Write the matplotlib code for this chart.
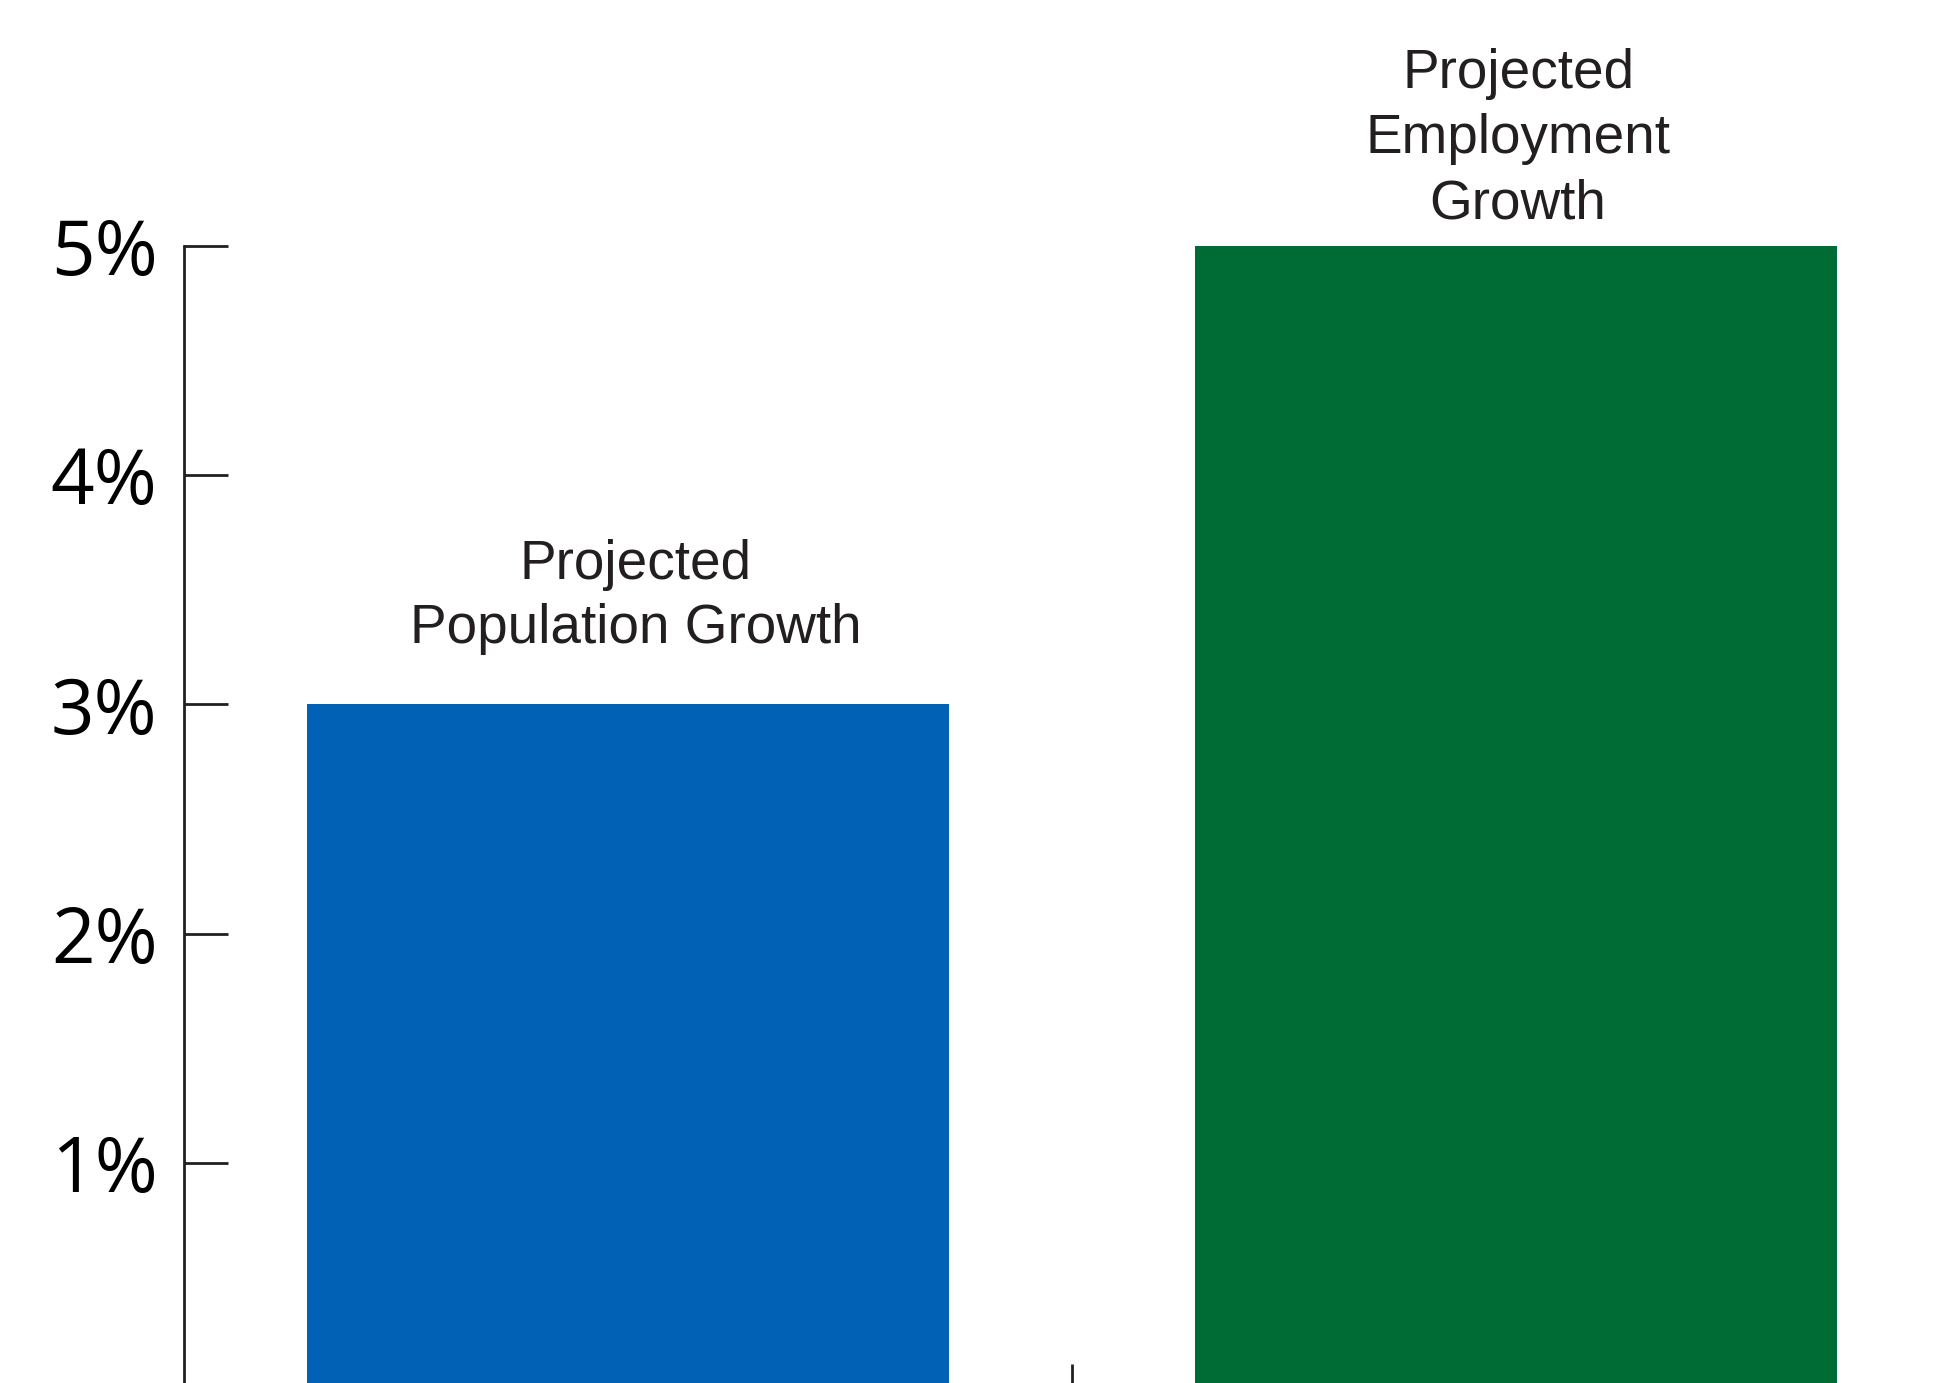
import matplotlib
matplotlib.use("Agg")
import matplotlib.pyplot as plt
from matplotlib.ticker import FuncFormatter

# values (percent)
labels = ["Projected\nPopulation Growth", "Projected\nEmployment\nGrowth"]
values = [3.0, 5.0]
colors = ["#0061B5", "#006C35"]
yticks = [1, 2, 3, 4, 5]
label_offsets = [(8, 49), (2, 16)]  # pixels from bar top centre

INK = "#231F20"

fig = plt.figure(figsize=(19.53, 13.83), dpi=100)
ax = fig.add_axes([0.0942, -0.0065, 0.9058, 0.8286])

x = range(len(values))
bars = ax.bar(x, values, width=0.722, color=colors, zorder=2)

ax.set_xlim(-0.5, 1.492)
ax.set_ylim(0, 5)

for s in ("top", "right"):
    ax.spines[s].set_visible(False)
for s in ("left", "bottom"):
    ax.spines[s].set_linewidth(2)
    ax.spines[s].set_color(INK)

ax.set_yticks(yticks)
ax.yaxis.set_major_formatter(FuncFormatter(lambda v, _: f"{v:.0f}%"))
ax.tick_params(axis="y", direction="in", length=31.5, width=2, color=INK,
               pad=19, labelsize=55, labelcolor="black")
for t in ax.get_yticklabels():
    t.set_fontfamily("Open Sans")

ax.set_xticks([0.5])
ax.set_xticklabels([""])
ax.tick_params(axis="x", direction="in", length=20, width=2, color=INK)

for bar, lab, off in zip(bars, labels, label_offsets):
    ax.annotate(lab, (bar.get_x() + bar.get_width() / 2, bar.get_height()),
                xytext=off, textcoords="offset pixels",
                ha="center", va="bottom", fontsize=39.5, color=INK,
                family="Liberation Sans", linespacing=1.32,
                multialignment="center", annotation_clip=False)

fig.savefig("out.png", dpi=100)
